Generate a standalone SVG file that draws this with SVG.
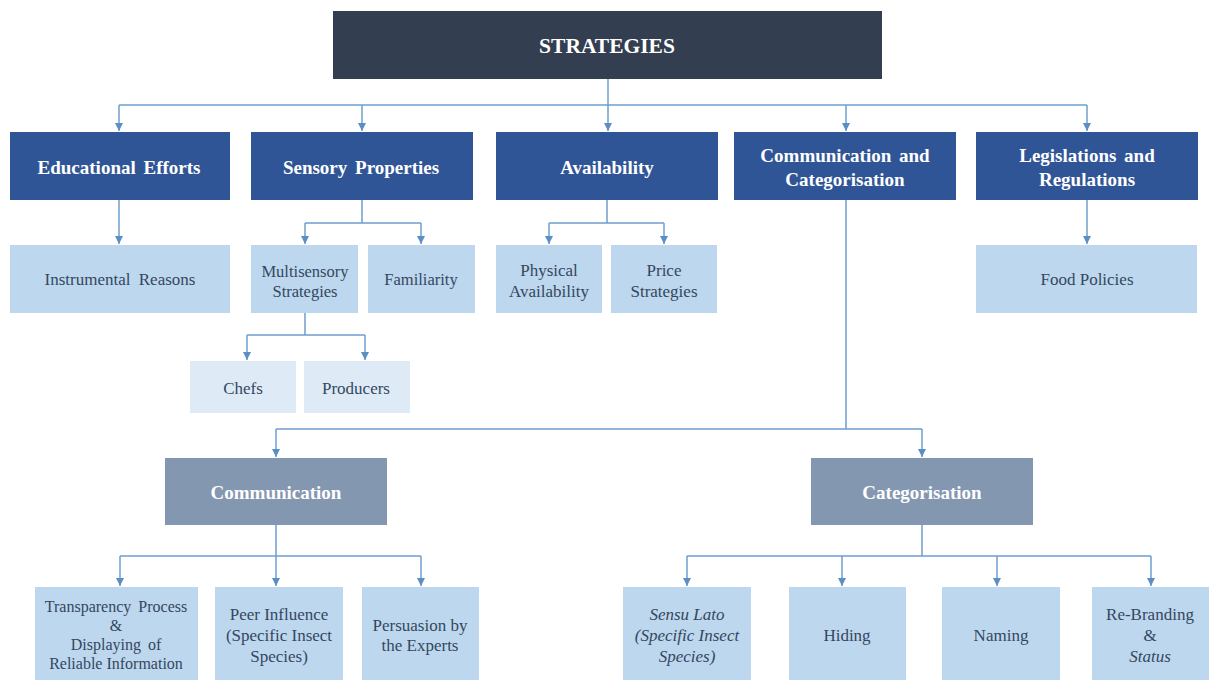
<svg xmlns="http://www.w3.org/2000/svg" width="1210" height="680" viewBox="0 0 1210 680">
<style>
.root{fill:#333F50}
.l1{fill:#2F5597}
.l2{fill:#BDD7EE}
.l3{fill:#DEEBF7}
.mid{fill:#8497B0}
.tb{font-family:"Liberation Serif","Times New Roman",serif;font-weight:bold;fill:#FFFFFF;text-anchor:middle;font-size:19px;word-spacing:3px}
.t{font-family:"Liberation Serif","Times New Roman",serif;fill:#34475F;text-anchor:middle;font-size:17px}
.ts{font-family:"Liberation Serif","Times New Roman",serif;fill:#34475F;text-anchor:middle;font-size:16.5px}
.tt{font-family:"Liberation Serif","Times New Roman",serif;fill:#34475F;text-anchor:middle;font-size:16px}
.c{fill:none;stroke:#6F9FCF;stroke-width:1.5}
</style>
<defs>
<marker id="ah" viewBox="0 0 10 10" refX="10" refY="5" markerWidth="8" markerHeight="8" markerUnits="userSpaceOnUse" orient="auto">
<path d="M0,0 L10,5 L0,10 z" fill="#5B8EC2"/>
</marker>
</defs>
<rect width="1210" height="680" fill="#FFFFFF"/>
<g id="connectors">
<path class="c" d="M608,79 V105"/>
<path class="c" d="M119,105 H1087"/>
<path class="c" d="M119,105 V131" marker-end="url(#ah)"/>
<path class="c" d="M362,105 V131" marker-end="url(#ah)"/>
<path class="c" d="M608,105 V131" marker-end="url(#ah)"/>
<path class="c" d="M846,105 V131" marker-end="url(#ah)"/>
<path class="c" d="M1087,105 V131" marker-end="url(#ah)"/>
<path class="c" d="M119,200 V244" marker-end="url(#ah)"/>
<path class="c" d="M362,200 V223 M305,223 H421"/>
<path class="c" d="M305,223 V244" marker-end="url(#ah)"/>
<path class="c" d="M421,223 V244" marker-end="url(#ah)"/>
<path class="c" d="M607,200 V223 M549,223 H664"/>
<path class="c" d="M549,223 V244" marker-end="url(#ah)"/>
<path class="c" d="M664,223 V244" marker-end="url(#ah)"/>
<path class="c" d="M1087,200 V244" marker-end="url(#ah)"/>
<path class="c" d="M305,313 V335 M247,335 H365"/>
<path class="c" d="M247,335 V360" marker-end="url(#ah)"/>
<path class="c" d="M365,335 V360" marker-end="url(#ah)"/>
<path class="c" d="M846,200 V429 M276,429 H922"/>
<path class="c" d="M276,429 V457" marker-end="url(#ah)"/>
<path class="c" d="M922,429 V457" marker-end="url(#ah)"/>
<path class="c" d="M276,525 V556 M120,556 H421"/>
<path class="c" d="M120,556 V586" marker-end="url(#ah)"/>
<path class="c" d="M276,556 V586" marker-end="url(#ah)"/>
<path class="c" d="M421,556 V586" marker-end="url(#ah)"/>
<path class="c" d="M922,525 V556 M687,556 H1151"/>
<path class="c" d="M687,556 V586" marker-end="url(#ah)"/>
<path class="c" d="M842,556 V586" marker-end="url(#ah)"/>
<path class="c" d="M997,556 V586" marker-end="url(#ah)"/>
<path class="c" d="M1151,556 V586" marker-end="url(#ah)"/>
</g>
<g id="strategies"><rect class="root" x="333" y="11" width="549" height="68"/><text class="tb" x="607" y="53" style="font-size:21.5px">STRATEGIES</text></g>
<g id="educational"><rect class="l1" x="10" y="132" width="220" height="68"/><text class="tb" x="119" y="174">Educational Efforts</text></g>
<g id="sensory"><rect class="l1" x="251" y="132" width="222" height="68"/><text class="tb" x="361" y="174">Sensory Properties</text></g>
<g id="availability"><rect class="l1" x="496" y="132" width="222" height="68"/><text class="tb" x="607" y="174">Availability</text></g>
<g id="commcat"><rect class="l1" x="734" y="132" width="222" height="68"/><text class="tb" x="845" y="162">Communication and</text><text class="tb" x="845" y="186">Categorisation</text></g>
<g id="legislations"><rect class="l1" x="976" y="132" width="222" height="68"/><text class="tb" x="1087" y="162">Legislations and</text><text class="tb" x="1087" y="186">Regulations</text></g>
<g id="instrumental"><rect class="l2" x="10" y="245" width="220" height="68"/><text class="t" x="120" y="285" word-spacing="4">Instrumental Reasons</text></g>
<g id="multisensory"><rect class="l2" x="251" y="245" width="107" height="68"/><text class="ts" x="305" y="277">Multisensory</text><text class="ts" x="305" y="297">Strategies</text></g>
<g id="familiarity"><rect class="l2" x="368" y="245" width="107" height="68"/><text class="ts" x="421" y="285">Familiarity</text></g>
<g id="physical"><rect class="l2" x="496" y="245" width="106" height="68"/><text class="t" x="549" y="276">Physical</text><text class="t" x="549" y="297">Availability</text></g>
<g id="price"><rect class="l2" x="611" y="245" width="106" height="68"/><text class="t" x="664" y="276">Price</text><text class="t" x="664" y="297">Strategies</text></g>
<g id="foodpolicies"><rect class="l2" x="976" y="245" width="221" height="68"/><text class="t" x="1087" y="285">Food Policies</text></g>
<g id="chefs"><rect class="l3" x="190" y="361" width="106" height="52"/><text class="t" x="243" y="394">Chefs</text></g>
<g id="producers"><rect class="l3" x="304" y="361" width="106" height="52"/><text class="t" x="356" y="394">Producers</text></g>
<g id="communication"><rect class="mid" x="165" y="458" width="222" height="67"/><text class="tb" x="276" y="499">Communication</text></g>
<g id="categorisation"><rect class="mid" x="811" y="458" width="222" height="67"/><text class="tb" x="922" y="499">Categorisation</text></g>
<g id="transparency"><rect class="l2" x="35" y="587" width="163" height="93"/><text class="tt" x="116" y="612" word-spacing="3">Transparency Process</text><text class="tt" x="116" y="631">&amp;</text><text class="tt" x="116" y="650" word-spacing="3">Displaying of</text><text class="tt" x="116" y="669">Reliable Information</text></g>
<g id="peer"><rect class="l2" x="215" y="587" width="128" height="93"/><text class="t" x="279" y="620">Peer Influence</text><text class="t" x="279" y="641">(Specific Insect</text><text class="t" x="279" y="662">Species)</text></g>
<g id="persuasion"><rect class="l2" x="362" y="587" width="117" height="93"/><text class="t" x="420" y="631">Persuasion by</text><text class="t" x="420" y="651">the Experts</text></g>
<g id="sensulato"><rect class="l2" x="623" y="587" width="128" height="93"/><text class="t" x="687" y="620" font-style="italic">Sensu Lato</text><text class="t" x="687" y="641" font-style="italic">(Specific Insect</text><text class="t" x="687" y="662" font-style="italic">Species)</text></g>
<g id="hiding"><rect class="l2" x="789" y="587" width="117" height="93"/><text class="t" x="847" y="641">Hiding</text></g>
<g id="naming"><rect class="l2" x="942" y="587" width="118" height="93"/><text class="t" x="1001" y="641">Naming</text></g>
<g id="rebranding"><rect class="l2" x="1092" y="587" width="117" height="93"/><text class="t" x="1150" y="620">Re-Branding</text><text class="t" x="1150" y="641">&amp;</text><text class="t" x="1150" y="662" font-style="italic">Status</text></g>
</svg>
